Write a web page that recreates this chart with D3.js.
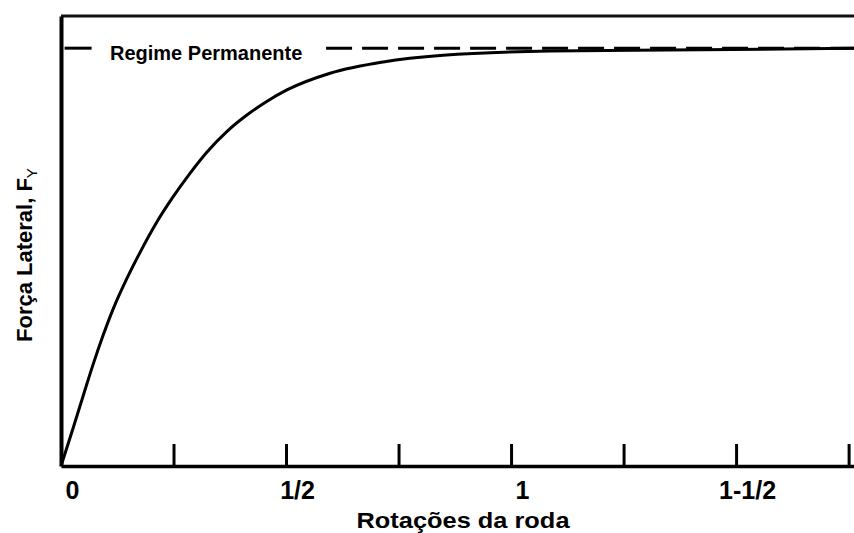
<!DOCTYPE html>
<html>
<head>
<meta charset="utf-8">
<script src="https://cdn.jsdelivr.net/npm/d3@7"></script>
<style>
  body { margin: 0; background: #fff; }
  text { font-family: "Liberation Sans", Arial, sans-serif; fill: #000; }
</style>
</head>
<body>
<script>
// Data (x in wheel rotations, y as fraction of steady-state lateral force)
const rotations = [0, 0.027, 0.049, 0.071, 0.093, 0.116, 0.147, 0.176, 0.213, 0.247, 0.287, 0.324, 0.369, 0.413, 0.458, 0.502, 0.598, 0.716, 0.849, 1.087, 1.42, 1.762];
const lateralForce = [0, 0.091, 0.167, 0.242, 0.311, 0.376, 0.45, 0.512, 0.584, 0.641, 0.701, 0.751, 0.801, 0.84, 0.873, 0.9, 0.94, 0.967, 0.983, 0.993, 0.996, 1.0];
const steadyState = 1.0;
const steadyLabel = "Regime Permanente";
// dashed reference pieces (rotations), broken around the label
const steadyPieces = [[0.008, 0.068], [0.589, 1.762]];
const tickValues = [0, 0.25, 0.5, 0.75, 1, 1.25, 1.5, 1.75];
const tickLabels = { 0: "0", 0.5: "1/2", 1: "1", 1.5: "1-1/2" };

const width = 854, height = 533;
const plotLeft = 61, plotRight = 854, plotTop = 16, plotBottom = 466;

const svg = d3.select("body").append("svg")
  .attr("width", width)
  .attr("height", height);

const x = d3.scaleLinear().domain([0, 1.762]).range([plotLeft, plotRight]);
const y = d3.scaleLinear().domain([0, 1.077]).range([plotBottom, plotTop]);

// top frame line
svg.append("line")
  .attr("x1", plotLeft).attr("x2", plotRight)
  .attr("y1", y(1.077)).attr("y2", y(1.077))
  .attr("stroke", "#111").attr("stroke-width", 3);

// x axis, ticks pointing up into the plot
const xAxis = d3.axisBottom(x)
  .tickValues(tickValues)
  .tickSizeInner(-22)
  .tickSizeOuter(0)
  .tickPadding(15)
  .tickFormat(d => tickLabels[d] || "");

const gx = svg.append("g")
  .attr("transform", `translate(0,${plotBottom})`)
  .call(xAxis);
gx.select(".domain").attr("stroke", "#000").attr("stroke-width", 3.5);
gx.selectAll(".tick line").attr("stroke", "#000").attr("stroke-width", 3);
gx.selectAll(".tick text")
  .attr("dx", 11)
  .style("font-size", "25px")
  .style("font-weight", "bold")
  .attr("fill", "#000");

// y axis: just the line
const gy = svg.append("g")
  .attr("transform", `translate(${plotLeft},0)`)
  .call(d3.axisLeft(y).tickValues([]).tickSizeOuter(0));
gy.select(".domain").attr("stroke", "#000").attr("stroke-width", 4);

// steady-state dashed line
svg.selectAll(".steady")
  .data(steadyPieces)
  .join("line")
  .attr("class", "steady")
  .attr("x1", d => x(d[0])).attr("x2", d => x(d[1]))
  .attr("y1", y(steadyState)).attr("y2", y(steadyState))
  .attr("stroke", "#000")
  .attr("stroke-width", 3)
  .attr("stroke-dasharray", (d, i) => i === 0 ? null : "26,10");

svg.append("text")
  .attr("x", 110)
  .attr("y", 60)
  .style("font-size", "20px")
  .style("font-weight", "bold")
  .text(steadyLabel);

// response curve
const line = d3.line()
  .x((d, i) => x(rotations[i]))
  .y(d => y(d))
  .curve(d3.curveMonotoneX);

svg.append("path")
  .datum(lateralForce)
  .attr("d", line)
  .attr("fill", "none")
  .attr("stroke", "#000")
  .attr("stroke-width", 3);

// axis titles
svg.append("text")
  .attr("x", 463)
  .attr("y", 528)
  .attr("text-anchor", "middle")
  .attr("textLength", 213)
  .attr("lengthAdjust", "spacingAndGlyphs")
  .style("font-size", "22px")
  .style("font-weight", "bold")
  .text("Rotações da roda");

const yt = svg.append("text")
  .attr("transform", "translate(32,342) rotate(-90)")
  .style("font-size", "22px")
  .style("font-weight", "bold");
yt.append("tspan").text("Força Lateral, F");
yt.append("tspan").attr("dy", 5).style("font-size", "15px").style("font-weight", "normal").text("Y");
</script>
</body>
</html>
